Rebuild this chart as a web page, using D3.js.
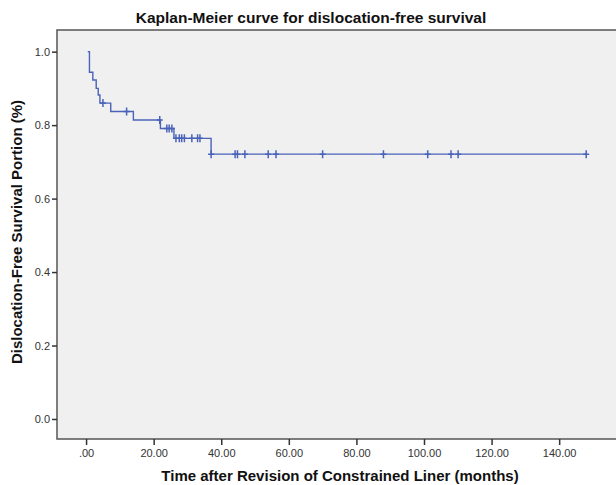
<!DOCTYPE html>
<html>
<head>
<meta charset="utf-8">
<script src="https://cdn.jsdelivr.net/npm/d3@7"></script>
<style>
	body { margin: 0; background: #fff; }
	text { font-family: "Liberation Sans", Arial, sans-serif; }
</style>
</head>
<body>
<div id="km-plot"></div>
<script>
// step times (months) and survival after each step
var stepTimes = [0.5, 1, 2, 3, 3.6, 4.1, 7.3, 14, 22, 26, 37];
var stepSurv = [1.0, 0.944, 0.923, 0.900, 0.882, 0.860, 0.837, 0.814, 0.791, 0.764, 0.721];
var lastTime = 148;

// censored cases (months)
var censorTimes = [5, 12, 21.8, 23.9, 24.6, 25.4, 26.6, 27.6, 28.3, 29.1, 31.3, 33, 33.7,
	37, 44.1, 44.8, 47, 53.9, 56.2, 70, 88, 101.1, 108, 110.1, 148];

var xTicks = [0, 20, 40, 60, 80, 100, 120, 140];
var yTicks = [0, 0.2, 0.4, 0.6, 0.8, 1.0];

var layout = {
	w: 616,
	h: 485,
	left: 57,
	right: 620,
	top: 30,
	bottom: 439
}

var svg = d3.select("#km-plot")
			.append("svg")
			.attr("width", layout.w)
			.attr("height", layout.h);

var xScale = d3.scaleLinear().domain([-8.6, 158]).range([layout.left, layout.right]),
	yScale = d3.scaleLinear().domain([-0.0545, 1.059]).range([layout.bottom, layout.top]);

// plot background
svg.append("rect")
	.attr("x", layout.left)
	.attr("y", layout.top)
	.attr("width", layout.right - layout.left)
	.attr("height", layout.bottom - layout.top)
	.style("fill", "#f0f0f0")
	.style("stroke", "#555")
	.style("stroke-width", 1.5);

var fmtX = function(d){
	var s = d3.format(".2f")(d);
	return d == 0 ? s.replace(/^0/, "") : s;
}

var xAxis = svg.append("g")
				.attr("transform", "translate(0," + layout.bottom + ")")
				.call(d3.axisBottom(xScale).tickValues(xTicks).tickFormat(fmtX).tickSize(6).tickPadding(4));
xAxis.select(".domain").remove();

var yAxis = svg.append("g")
				.attr("transform", "translate(" + layout.left + ",0)")
				.call(d3.axisLeft(yScale).tickValues(yTicks).tickFormat(d3.format(".1f")).tickSize(5).tickPadding(2));
yAxis.select(".domain").remove();

svg.selectAll(".tick line").style("stroke", "#333").style("stroke-width", 1.5);
svg.selectAll(".tick text")
	.style("font-size", "11px")
	.style("fill", "#333")
	.style("font-family", "'Liberation Sans', Arial, sans-serif");

// step curve
var pts = stepTimes.map(function(t, i){ return [t, stepSurv[i]]; });
pts.push([lastTime, stepSurv[stepSurv.length - 1]]);

var line = d3.line()
			.x(function(d){ return xScale(d[0]); })
			.y(function(d){ return yScale(d[1]); })
			.curve(d3.curveStepAfter);

svg.append("path")
	.attr("d", line(pts))
	.style("fill", "none")
	.style("stroke", "#4a63b9")
	.style("stroke-width", 1.4);

var survAt = function(t){
	var s = stepSurv[0];
	stepTimes.forEach(function(st, i){ if(st <= t) s = stepSurv[i]; });
	return s;
}

// censor marks drawn as small plus signs
var censorG = svg.append("g").attr("class", "censor");
censorG.selectAll("path")
	.data(censorTimes)
	.enter().append("path")
	.attr("d", function(d){
		var cx = xScale(d), cy = yScale(survAt(d));
		return "M" + cx + "," + (cy - 4) + "V" + (cy + 4) +
			"M" + (cx - 3) + "," + cy + "H" + (cx + 3);
	})
	.style("fill", "none")
	.style("stroke", "#4a63b9")
	.style("stroke-width", 1.5);

// titles
svg.append("text")
	.attr("x", 311)
	.attr("y", 23)
	.attr("text-anchor", "middle")
	.style("font-size", "15.5px")
	.style("font-weight", "bold")
	.style("fill", "#111")
	.text("Kaplan-Meier curve for dislocation-free survival");

svg.append("text")
	.attr("x", 340)
	.attr("y", 481)
	.attr("text-anchor", "middle")
	.style("font-size", "15px")
	.style("font-weight", "bold")
	.style("fill", "#111")
	.text("Time after Revision of Constrained Liner (months)");

svg.append("text")
	.attr("transform", "translate(22," + 232 + ") rotate(-90)")
	.attr("text-anchor", "middle")
	.style("font-size", "15px")
	.style("font-weight", "bold")
	.style("fill", "#111")
	.text("Dislocation-Free Survival Portion (%)");
</script>
</body>
</html>
